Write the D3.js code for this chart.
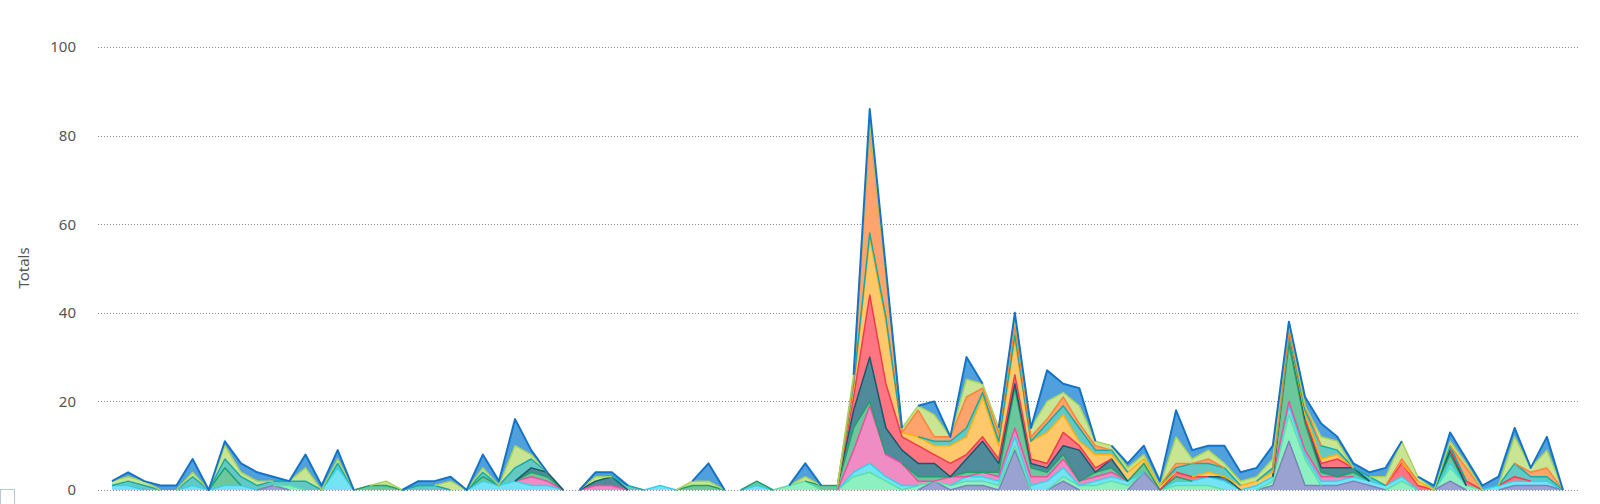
<!DOCTYPE html>
<html>
<head>
<meta charset="utf-8">
<script src="https://cdn.jsdelivr.net/npm/d3@7"></script>
<style>
  body { margin: 0; background: #fff; }
  svg { display: block; font-family: "Noto Sans", "Open Sans", sans-serif; }
</style>
</head>
<body>
<svg></svg>
<script>
var width = 1600,
    height = 504;

// y ticks
var yTicks = [0, 20, 40, 60, 80, 100];

// series, bottom to top of the stack (91 points each)
var lavender = [0,0,0,0,0,0,0,0,0,0, 1,0,0,0,0,0,0,0,0,0, 0,0,0,0,0,0,0,0,0,0, 0,0,0,0,0,0,0,0,0,0, 0,0,0,0,0,0,0,0,0,0, 0,2,0,1,1,0,9,0,0,2, 0,0,0,0,4,0,0,0,0,0, 0,0,1,11,1,1,1,2,1,0, 0,0,0,2,0,0,0,1,1,1, 0];
var mint     = [0,0,0,0,0,0,0,0,0,0, 0,1,0,0,0,0,0,0,0,0, 0,0,0,0,0,0,0,0,0,0, 0,0,0,0,0,0,0,0,0,0, 0,0,1,2,0,0,3,4,2,0, 1,0,1,1,1,1,1,0,0,1, 1,1,2,1,0,0,1,1,1,0, 0,0,1,6,6,0,0,0,0,0, 2,0,0,3,1,0,0,0,0,0, 0];
var cyan     = [1,1,0,0,0,1,0,1,1,0, 0,0,0,0,5,0,0,0,0,0, 0,0,0,2,1,2,1,1,0,0, 0,0,0,0,1,0,0,0,0,0, 1,0,0,0,0,0,1,2,1,1, 0,0,0,1,1,1,2,1,2,2, 0,1,1,1,0,0,1,1,2,2, 0,1,1,2,1,1,1,1,1,1, 1,0,0,1,0,0,1,1,1,1, 0];
var pink     = [0,0,0,0,0,0,0,0,0,0, 0,0,0,0,0,0,0,0,0,0, 0,0,0,0,0,0,2,1,0,0, 1,1,0,0,0,0,0,0,0,0, 0,0,0,0,0,0,5,13,5,5, 1,0,2,0,1,1,2,2,1,2, 1,1,1,0,0,0,0,0,0,0, 0,0,0,1,1,1,1,0,0,0, 0,0,0,0,0,0,0,0,0,0, 0];
var green    = [0,0,0,0,0,0,0,4,0,0, 0,0,0,0,0,0,1,1,0,0, 0,0,0,1,0,0,1,1,0,0, 0,0,0,0,0,0,1,1,0,0, 1,0,0,0,1,1,5,1,0,0, 1,1,0,1,0,1,9,2,1,1, 0,1,1,0,2,0,1,0,0,0, 0,0,0,13,6,1,0,1,0,0, 0,0,0,2,0,0,0,0,0,0, 0];
var darkTeal = [0,0,0,0,0,0,0,0,0,0, 0,0,0,0,0,0,0,0,0,0, 0,0,0,0,0,0,1,1,0,0, 1,2,0,0,0,0,0,0,0,0, 0,0,0,0,0,0,4,10,6,3, 3,3,0,3,7,2,1,1,1,2, 7,0,2,0,0,0,0,0,0,1, 0,0,0,2,1,1,2,1,0,0, 0,0,0,1,0,0,0,0,0,0, 0];
var red      = [0,0,0,0,0,0,0,0,0,0, 0,0,0,0,0,0,0,0,0,0, 0,0,0,0,0,0,0,0,0,0, 0,0,0,0,0,0,0,0,0,0, 0,0,0,0,0,0,3,14,10,3, 4,2,3,1,1,1,2,1,1,3, 1,1,0,0,0,0,1,1,0,0, 0,0,0,0,0,1,2,0,0,0, 3,1,0,0,1,0,0,1,0,0, 0];
var yellow   = [0,0,0,0,0,0,0,0,0,0, 0,0,0,0,0,0,0,0,0,0, 0,0,0,0,0,0,0,0,0,0, 0,0,0,0,0,0,0,0,0,0, 0,0,0,0,0,0,2,13,14,1, 2,2,4,4,9,3,8,4,7,4, 1,3,1,2,1,1,0,0,1,0, 1,1,1,0,1,1,1,0,0,0, 0,1,0,0,0,0,0,0,0,0, 0];
var teal     = [0,1,1,0,0,2,0,2,2,1, 1,1,2,0,1,0,0,0,0,1, 1,0,0,1,0,3,2,0,0,0, 0,0,1,0,0,0,0,0,0,0, 0,0,0,0,0,0,1,1,1,0, 0,1,1,2,1,1,1,0,2,2, 3,1,1,0,0,0,1,3,2,2, 0,0,1,0,1,3,1,0,1,0, 0,0,0,1,0,0,0,3,1,1, 0];
var orange   = [0,0,0,0,0,0,0,0,0,0, 0,0,0,0,0,0,0,0,0,0, 0,0,0,0,0,0,0,0,0,0, 0,0,0,0,0,0,0,0,0,0, 0,0,0,0,0,0,1,24,10,0, 6,1,1,7,1,2,2,1,1,2, 1,1,0,0,0,0,1,0,1,0, 0,0,0,1,1,0,0,0,0,0, 1,0,0,0,3,0,0,0,1,2, 0];
var lightGreen = [1,1,1,0,0,1,0,3,1,1, 0,0,3,0,1,0,0,1,0,0, 0,2,0,1,0,5,1,0,0,0, 1,0,0,0,0,0,1,1,0,0, 0,0,0,1,0,0,1,1,0,1, 1,5,0,4,1,1,2,2,4,1, 4,1,1,1,1,0,6,1,2,1, 1,1,2,2,0,2,2,0,0,2, 4,1,0,1,1,0,0,6,1,4, 0];
var blue     = [0,1,0,1,1,3,0,1,2,2, 1,0,3,1,2,0,0,0,0,1, 1,1,0,3,1,6,1,0,0,0, 1,1,0,0,0,0,0,4,0,0, 0,0,0,3,0,0,0,3,1,0, 0,3,0,5,0,0,1,0,7,2, 4,0,0,1,2,1,6,2,1,4, 2,2,3,0,2,3,1,1,1,2, 0,0,1,2,1,1,2,2,0,3, 0];

var seriesNames = ["lavender","mint","cyan","pink","green","darkTeal","red","yellow","teal","orange","lightGreen","blue"];
var seriesValues = [lavender, mint, cyan, pink, green, darkTeal, red, yellow, teal, orange, lightGreen, blue];
var fills   = ["#9aa2d2","#8cf0c1","#74e3f3","#ef8cc3","#6cc79d","#4f8b9b","#ff7582","#ffc96b","#64c8c4","#ffa46d","#c9e594","#4fa0dc"];
var strokes = ["#7d82bb","#5edfa6","#3ccfe8","#e8529f","#22a06b","#17596c","#f23a4e","#ffb00a","#16aba6","#ff8436","#a7d35d","#1473c6"];

var rows = lavender.map(function(_, i) {
  var r = { i: i };
  seriesNames.forEach(function(n, k) { r[n] = seriesValues[k][i]; });
  return r;
});

var svg = d3.select("svg")
    .attr("width", width)
    .attr("height", height);

var x = d3.scaleLinear().domain([0, rows.length - 1]).range([112, 1563]);
var y = d3.scaleLinear().domain([0, 100]).range([490, 47]);

// grid
svg.append("g")
  .selectAll("line")
  .data(yTicks)
  .enter().append("line")
    .attr("x1", 98).attr("x2", 1578)
    .attr("y1", function(d) { return Math.round(y(d)) + 0.5; })
    .attr("y2", function(d) { return Math.round(y(d)) + 0.5; })
    .attr("stroke", "#8a8a8a")
    .attr("stroke-width", 1)
    .attr("stroke-dasharray", "1,2");

var stack = d3.stack().keys(seriesNames);
var layers = stack(rows);

var area = d3.area()
    .x(function(d) { return x(d.data.i); })
    .y0(function(d) { return y(d[0]); })
    .y1(function(d) { return y(d[1]); });

// top edge of a layer, only over segments where the layer has some thickness
function edgePath(layer) {
  var p = d3.path(), open = false;
  for (var i = 0; i < layer.length - 1; i++) {
    var a = layer[i], b = layer[i + 1];
    var show = (a[1] > a[0]) || (b[1] > b[0]);
    if (show) {
      if (!open) { p.moveTo(x(a.data.i), y(a[1])); open = true; }
      p.lineTo(x(b.data.i), y(b[1]));
    } else {
      open = false;
    }
  }
  return p.toString();
}

var g = svg.append("g");

g.selectAll("path.area")
  .data(layers)
  .enter().append("path")
    .attr("class", "area")
    .attr("d", area)
    .attr("fill", function(d, k) { return fills[k]; });

g.selectAll("path.edge")
  .data(layers)
  .enter().append("path")
    .attr("class", "edge")
    .attr("d", edgePath)
    .attr("fill", "none")
    .attr("stroke", function(d, k) { return strokes[k]; })
    .attr("stroke-width", function(d, k) { return k === layers.length - 1 ? 2 : 1.5; })
    .attr("stroke-linejoin", "round");

// y axis labels
var yAxis = d3.axisLeft(y).tickValues(yTicks).tickSize(0).tickPadding(0);
var ax = svg.append("g")
    .attr("transform", "translate(76,0)")
    .call(yAxis);
ax.select(".domain").remove();
ax.selectAll("text")
    .attr("fill", "#555")
    .style("font-size", "15px")
    .style("font-family", "'Noto Sans', sans-serif");

svg.append("text")
    .attr("transform", "translate(29,268) rotate(-90)")
    .attr("text-anchor", "middle")
    .attr("fill", "#555")
    .style("font-size", "15px")
    .text("Totals");

// small box at bottom-left corner
svg.append("rect")
    .attr("x", 0.5).attr("y", 489.5)
    .attr("width", 14).attr("height", 20)
    .attr("fill", "none")
    .attr("stroke", "#b8c6d6");
</script>
</body>
</html>
